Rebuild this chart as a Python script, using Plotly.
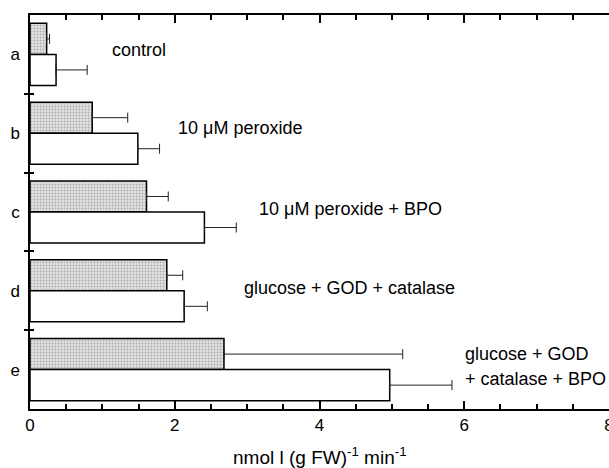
import plotly.graph_objects as go

categories = ["a", "b", "c", "d", "e"]
positions = [0, 1, 2, 3, 4]
shaded_values = [0.23, 0.86, 1.61, 1.89, 2.68]
shaded_err_top = [0.27, 1.35, 1.91, 2.11, 5.15]
white_values = [0.36, 1.49, 2.41, 2.13, 4.97]
white_err_top = [0.79, 1.79, 2.85, 2.45, 5.83]
x_ticks = [0, 2, 4, 6, 8]
separators = [0.5, 1.5, 2.5, 3.5]

labels = [
    ("control", 1.10, -0.06),
    ("10 \u03bcM peroxide", 2.02, 0.93),
    ("10 \u03bcM peroxide + BPO", 3.13, 1.96),
    ("glucose + GOD + catalase", 2.93, 2.96),
    ("glucose + GOD", 5.98, 3.80),
    ("+ catalase + BPO", 5.98, 4.12),
]

FONT = "Liberation Sans, Arial, Helvetica, sans-serif"

shaded_plus = [t - v for t, v in zip(shaded_err_top, shaded_values)]
white_plus = [t - v for t, v in zip(white_err_top, white_values)]

fig = go.Figure()
fig.add_trace(go.Bar(
    y=positions, x=shaded_values, orientation="h",
    marker=dict(color="#d8d8d8", line=dict(color="black", width=1.5),
                pattern=dict(shape=".", fgcolor="#7a7a7a", bgcolor="#e2e2e2",
                             size=3, solidity=0.35)),
    error_x=dict(type="data", symmetric=False, array=shaded_plus,
                 arrayminus=[0] * len(shaded_plus), color="#222", thickness=1, width=5),
    showlegend=False,
))
fig.add_trace(go.Bar(
    y=positions, x=white_values, orientation="h",
    marker=dict(color="white", line=dict(color="black", width=1.5)),
    error_x=dict(type="data", symmetric=False, array=white_plus,
                 arrayminus=[0] * len(white_plus), color="#222", thickness=1, width=5),
    showlegend=False,
))
# invisible trace on secondary y axis for inner separator ticks
fig.add_trace(go.Scatter(x=[None], y=[None], yaxis="y2", showlegend=False))

for text, x, y in labels:
    fig.add_annotation(text=text, x=x, y=y, xref="x", yref="y",
                       xanchor="left", yanchor="middle", showarrow=False,
                       font=dict(family=FONT, size=18, color="black"))

fig.add_annotation(text="nmol l (g FW)<sup>-1</sup> min<sup>-1</sup>",
                   x=0.5, y=-0.085, xref="paper", yref="paper",
                   xanchor="center", yanchor="top", showarrow=False,
                   font=dict(family=FONT, size=19, color="black"))

fig.update_layout(
    width=609, height=468,
    margin=dict(l=30, r=0, t=15, b=59, autoexpand=False),
    paper_bgcolor="white", plot_bgcolor="white",
    barmode="group", bargap=0.212, bargroupgap=0,
    font=dict(family=FONT, size=17, color="black"),
    xaxis=dict(range=[0, 8], tickmode="linear", tick0=x_ticks[0],
               dtick=x_ticks[1] - x_ticks[0],
               ticks="inside", ticklen=8, tickwidth=1.5, tickcolor="black",
               showline=True, linecolor="black", linewidth=1.5, mirror="ticks",
               showgrid=False, zeroline=False, ticklabeloverflow="allow",
               automargin=False,
               tickfont=dict(family=FONT, size=17, color="black"),
               minor=dict(tickmode="linear", tick0=0, dtick=0.5, ticks="inside", ticklen=5,
                          tickwidth=1.5, tickcolor="black", showgrid=False)),
    yaxis=dict(range=[4.5, -0.5], tickvals=positions, ticktext=categories,
               ticks="", showline=True, linecolor="black", linewidth=1.5,
               showgrid=False, zeroline=False, automargin=False,
               ticklabelstandoff=5,
               tickfont=dict(family=FONT, size=17, color="black"),
               minor=dict(tickmode="array", tickvals=separators, ticks="outside",
                          ticklen=4, tickwidth=1.5, tickcolor="black", showgrid=False)),
    yaxis2=dict(range=[4.5, -0.5], overlaying="y", side="left",
                tickvals=separators, ticks="inside", ticklen=4, tickwidth=1.5,
                tickcolor="black", showticklabels=False, showline=False,
                showgrid=False, zeroline=False, automargin=False),
)

fig.write_html("out.html", config={"displayModeBar": False},
               post_script="document.body.style.margin='0';document.body.style.overflow='hidden';")
